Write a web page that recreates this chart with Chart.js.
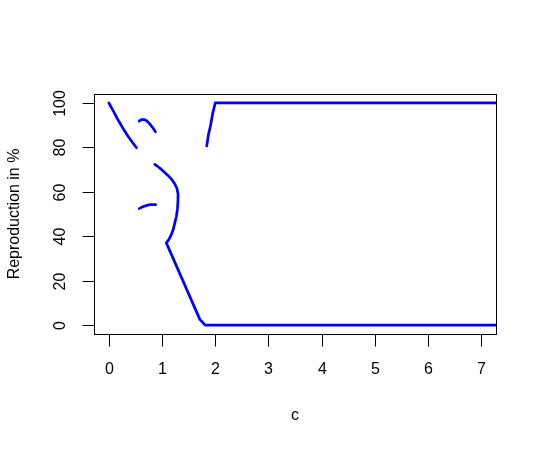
<!DOCTYPE html>
<html>
<head>
<meta charset="utf-8">
<script src="https://cdn.jsdelivr.net/npm/chart.js@4"></script>
<style>
	body { margin: 0; background: #fff; }
	canvas { display: block; }
</style>
</head>
<body>
<canvas id="myChart" width="545" height="452"></canvas>
<script>
// data, one array per drawn piece
var topLeftX = [0, 0.05, 0.11, 0.17, 0.24, 0.30, 0.36, 0.44, 0.52];
var topLeftY = [100, 97.8, 95.2, 92.4, 89.6, 87.2, 85, 82.3, 79.8];

var smallArcX = [0.57, 0.61, 0.66, 0.71, 0.76, 0.82, 0.875];
var smallArcY = [91.8, 92.5, 92.5, 92, 90.8, 89, 87];

var midX = [0.863, 0.95, 1.02, 1.10, 1.18, 1.24, 1.28, 1.30, 1.30, 1.29, 1.27, 1.24, 1.21, 1.17, 1.13, 1.08, 1.71, 1.81, 7.5];
var midY = [72.3, 70.8, 69.3, 67.6, 65.6, 63.5, 61.5, 59, 56.6, 52.5, 49, 46, 43, 40.5, 38.6, 37, 2.6, 0, 0];

var lowArcX = [0.57, 0.62, 0.68, 0.73, 0.78, 0.88];
var lowArcY = [52.4, 53.1, 53.6, 54, 54.2, 54.2];

var rightX = [1.84, 1.87, 1.91, 1.95, 2.0, 7.5];
var rightY = [80.6, 85.5, 89.6, 95, 100, 100];

var xTicks = [0, 1, 2, 3, 4, 5, 6, 7];
var yTicks = [0, 20, 40, 60, 80, 100];

var xTitle = 'c';
var yTitle = 'Reproduction in %';

function pts(xs, ys) {
	return xs.map(function(x, i) { return { x: x, y: ys[i] }; });
}

function seg(xs, ys) {
	return {
		data: pts(xs, ys),
		borderColor: '#0000ff',
		borderWidth: 2.7,
		pointRadius: 0,
		fill: false,
		tension: 0,
		borderCapStyle: 'round',
		borderJoinStyle: 'round'
	};
}

var FONT = '16px "Liberation Sans", Arial, sans-serif';

// R style frame, ticks and labels, placed with the chart scales
var rAxes = {
	id: 'rAxes',
	afterDraw: function(chart) {
		var ctx = chart.ctx;
		var a = chart.chartArea;
		var sx = chart.scales.x;
		var sy = chart.scales.y;
		ctx.save();
		ctx.strokeStyle = '#000';
		ctx.lineWidth = 1;
		ctx.strokeRect(Math.round(a.left) + 0.5, Math.round(a.top) + 0.5,
			Math.round(a.right - a.left), Math.round(a.bottom - a.top));
		ctx.fillStyle = '#000';
		ctx.font = FONT;

		// x ticks
		ctx.textAlign = 'center';
		ctx.textBaseline = 'middle';
		var yb = Math.round(a.bottom) + 0.5;
		xTicks.forEach(function(t) {
			var px = Math.round(sx.getPixelForValue(t)) + 0.5;
			ctx.beginPath();
			ctx.moveTo(px, yb);
			ctx.lineTo(px, yb + 12);
			ctx.stroke();
			ctx.fillText(String(t), px, 370);
		});
		ctx.fillText(xTitle, (a.left + a.right) / 2, 416);

		// y ticks, labels turned like R
		var xl = Math.round(a.left) + 0.5;
		yTicks.forEach(function(t) {
			var py = Math.round(sy.getPixelForValue(t)) + 0.5;
			ctx.beginPath();
			ctx.moveTo(xl, py);
			ctx.lineTo(xl - 12, py);
			ctx.stroke();
			ctx.save();
			ctx.translate(61, py);
			ctx.rotate(-Math.PI / 2);
			ctx.fillText(String(t), 0, 0);
			ctx.restore();
		});
		ctx.save();
		ctx.translate(15, (a.top + a.bottom) / 2);
		ctx.rotate(-Math.PI / 2);
		ctx.fillText(yTitle, 0, 0);
		ctx.restore();
		ctx.restore();
	}
};

var ctx = document.getElementById('myChart').getContext('2d');
new Chart(ctx, {
	type: 'line',
	data: {
		datasets: [
			seg(topLeftX, topLeftY),
			seg(smallArcX, smallArcY),
			seg(midX, midY),
			seg(lowArcX, lowArcY),
			seg(rightX, rightY)
		]
	},
	options: {
		responsive: false,
		animation: false,
		layout: { padding: { left: 94, right: 49, top: 94, bottom: 118 } },
		plugins: { legend: { display: false }, tooltip: { enabled: false } },
		scales: {
			x: { type: 'linear', min: -0.28, max: 7.28, display: false },
			y: { type: 'linear', min: -4, max: 104, display: false }
		}
	},
	plugins: [rAxes]
});
</script>
</body>
</html>
